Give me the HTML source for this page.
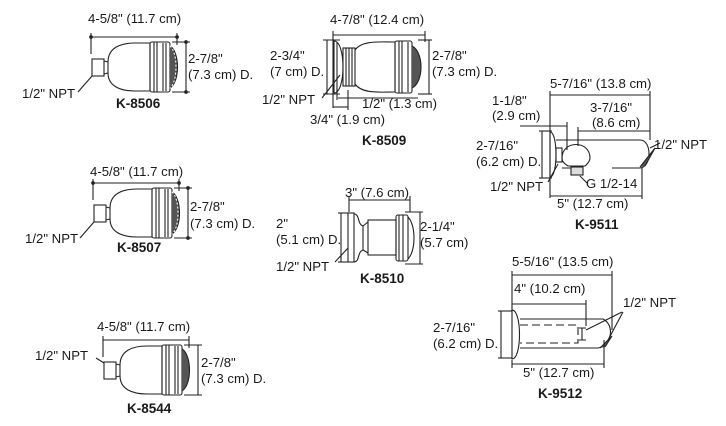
<!DOCTYPE html>
<html><head><meta charset="utf-8"><style>
html,body{margin:0;padding:0;background:#fff;}
svg{display:block;}
text{font-family:"Liberation Sans",sans-serif;font-size:13.2px;fill:#1a1a1a;}
.b{font-weight:bold;font-size:13.5px;}
</style></head><body>
<svg width="726" height="426" viewBox="0 0 726 426" xmlns="http://www.w3.org/2000/svg">
<defs>
<g id="sh" fill="none" stroke="#222" stroke-width="1.1">
  <line x1="91" y1="37" x2="177" y2="37"/>
  <line x1="91" y1="33" x2="91" y2="54"/>
  <line x1="177" y1="33" x2="177" y2="45"/>
  <line x1="172" y1="42" x2="190" y2="42"/>
  <line x1="172" y1="92" x2="190" y2="92"/>
  <line x1="186" y1="42" x2="186" y2="92"/>
  <circle cx="91" cy="37" r="1.3" fill="#222"/><circle cx="177" cy="37" r="1.3" fill="#222"/>
  <circle cx="186" cy="42" r="1.3" fill="#222"/><circle cx="186" cy="92" r="1.3" fill="#222"/>
  <rect x="92" y="59" width="12" height="17"/>
  <path d="M104 61 L108 62 L108 73 L104 74"/>
  <path d="M108 62 C108 48 120 43 135 43 L150 43 L150 91 L135 91 C120 91 108 86 108 73"/>
  <rect x="150" y="42" width="20" height="50" rx="2"/>
  <line x1="154" y1="42" x2="154" y2="92"/><line x1="157" y1="42" x2="157" y2="92"/>
  <line x1="163" y1="43" x2="163" y2="91"/><line x1="166" y1="43" x2="166" y2="91"/>
  <path d="M170 46 C180 52 180 82 170 88" fill="#555"/>
  <path d="M170 46 C178 52 178 82 170 88" stroke-dasharray="2 2" stroke="#fff"/>
  <line x1="92" y1="76" x2="78" y2="92"/>
</g>
</defs>

<use href="#sh"/>
<text x="88" y="23">4-5/8" (11.7 cm)</text>
<text x="188" y="63">2-7/8"</text>
<text x="188" y="79">(7.3 cm) D.</text>
<text x="22" y="98">1/2" NPT</text>
<text x="116" y="108" class="b">K-8506</text>

<use href="#sh" transform="translate(2,146)"/>
<text x="90" y="176">4-5/8" (11.7 cm)</text>
<text x="190" y="211">2-7/8"</text>
<text x="190" y="228">(7.3 cm) D.</text>
<text x="25" y="243">1/2" NPT</text>
<text x="117" y="252" class="b">K-8507</text>

<g transform="translate(12,303)">
<g fill="none" stroke="#222" stroke-width="1.1">
  <line x1="91" y1="37" x2="177" y2="37"/>
  <line x1="91" y1="33" x2="91" y2="54"/>
  <line x1="177" y1="33" x2="177" y2="45"/>
  <line x1="172" y1="42" x2="190" y2="42"/>
  <line x1="172" y1="92" x2="190" y2="92"/>
  <line x1="186" y1="42" x2="186" y2="92"/>
  <rect x="92" y="59" width="12" height="17"/>
  <path d="M104 61 L108 62 L108 73 L104 74"/>
  <path d="M108 62 C108 48 120 43 135 43 L150 43 L150 91 L135 91 C120 91 108 86 108 73"/>
  <rect x="150" y="42" width="20" height="50" rx="2"/>
  <line x1="154" y1="42" x2="154" y2="92"/><line x1="157" y1="42" x2="157" y2="92"/>
  <line x1="163" y1="43" x2="163" y2="91"/><line x1="166" y1="43" x2="166" y2="91"/>
  <path d="M170 46 C180 52 180 82 170 88" fill="#555"/>
  <line x1="92" y1="60" x2="84" y2="55"/>
</g>
</g>
<text x="97" y="331">4-5/8" (11.7 cm)</text>
<text x="35" y="360">1/2" NPT</text>
<text x="201" y="367">2-7/8"</text>
<text x="201" y="383">(7.3 cm) D.</text>
<text x="127" y="413" class="b">K-8544</text>

<g fill="none" stroke="#222" stroke-width="1.1">
  <line x1="333" y1="35" x2="425" y2="35"/>
  <line x1="333" y1="31" x2="333" y2="108"/>
  <line x1="425" y1="31" x2="425" y2="42"/>
  <line x1="327" y1="40" x2="327" y2="94"/>
  <line x1="323" y1="40" x2="340" y2="40"/><line x1="323" y1="94" x2="340" y2="94"/>
  <line x1="418" y1="40" x2="432" y2="40"/><line x1="418" y1="94" x2="432" y2="94"/>
  <line x1="429" y1="40" x2="429" y2="94"/>
  <path d="M334 41 C346 41 346 93 334 93 Z"/>
  <line x1="337" y1="42" x2="337" y2="92"/>
  <rect x="343" y="48" width="12" height="38"/>
  <line x1="346" y1="48" x2="346" y2="86"/><line x1="349" y1="48" x2="349" y2="86"/><line x1="352" y1="48" x2="352" y2="86"/>
  <path d="M355 50 C362 40 380 42 395 42 L395 92 C380 92 362 94 355 84"/>
  <rect x="395" y="41" width="17" height="52" rx="2"/>
  <line x1="399" y1="41" x2="399" y2="93"/><line x1="402" y1="41" x2="402" y2="93"/>
  <line x1="408" y1="42" x2="408" y2="92"/>
  <path d="M412 46 C424 52 424 82 412 88" fill="#555"/>
  <line x1="337" y1="88" x2="337" y2="100"/><line x1="338" y1="98" x2="418" y2="98"/>
  <line x1="333" y1="107" x2="348" y2="107"/><line x1="348" y1="90" x2="348" y2="110"/>
  <line x1="340" y1="75" x2="322" y2="98"/>
</g>
<text x="330" y="24">4-7/8" (12.4 cm)</text>
<text x="270" y="60">2-3/4"</text>
<text x="270" y="76">(7 cm) D.</text>
<text x="432" y="60">2-7/8"</text>
<text x="432" y="76">(7.3 cm) D.</text>
<text x="262" y="104">1/2" NPT</text>
<text x="362" y="108">1/2" (1.3 cm)</text>
<text x="310" y="124">3/4" (1.9 cm)</text>
<text x="362" y="145" class="b">K-8509</text>

<g fill="none" stroke="#222" stroke-width="1.1">
  <line x1="349" y1="200" x2="410" y2="200"/>
  <line x1="349" y1="196" x2="349" y2="212"/><line x1="410" y1="196" x2="410" y2="212"/>
  <line x1="341" y1="213" x2="341" y2="262"/>
  <line x1="338" y1="213" x2="348" y2="213"/><line x1="338" y1="262" x2="348" y2="262"/>
  <line x1="420" y1="212" x2="420" y2="264"/>
  <line x1="405" y1="212" x2="423" y2="212"/><line x1="405" y1="264" x2="423" y2="264"/>
  <rect x="348" y="213" width="6" height="49"/>
  <path d="M354 214 C360 214 357 224 363 226 L363 250 C357 252 360 262 354 262"/>
  <rect x="368" y="220" width="28" height="35"/>
  <path d="M363 226 L368 222 M363 250 L368 253"/>
  <rect x="396" y="215" width="12" height="46" rx="2"/>
  <line x1="399" y1="215" x2="399" y2="261"/><line x1="403" y1="215" x2="403" y2="261"/>
  <path d="M408 217 C416 225 416 251 408 259"/>
  <line x1="348" y1="248" x2="335" y2="262"/>
</g>
<text x="345" y="197">3" (7.6 cm)</text>
<text x="276" y="228">2"</text>
<text x="276" y="244">(5.1 cm) D.</text>
<text x="420" y="231">2-1/4"</text>
<text x="420" y="247">(5.7 cm)</text>
<text x="276" y="271">1/2" NPT</text>
<text x="360" y="283" class="b">K-8510</text>

<g fill="none" stroke="#222" stroke-width="1.1">
  <line x1="550" y1="95" x2="650" y2="95"/>
  <line x1="550" y1="91" x2="550" y2="198"/><line x1="650" y1="91" x2="650" y2="140"/>
  <line x1="520" y1="126" x2="550" y2="126"/><line x1="567" y1="122" x2="567" y2="150"/>
  <line x1="550" y1="126" x2="567" y2="126"/>
  <line x1="578" y1="131" x2="650" y2="131"/><line x1="578" y1="127" x2="578" y2="146"/>
  <line x1="542" y1="131" x2="542" y2="178"/>
  <line x1="539" y1="131" x2="552" y2="131"/><line x1="539" y1="178" x2="552" y2="178"/>
  <path d="M550 132 C558 132 558 177 550 177 Z"/>
  <rect x="556" y="148" width="6" height="14"/>
  <path d="M556 140 L640 140 C652 140 652 167 640 168 L612 168 M571 168 L562 168"/>
  <path d="M562 158 C562 140 590 140 590 158 C590 162 585 166 585 166 L568 166 C565 164 562 162 562 158 Z"/>
  <rect x="571" y="167" width="12" height="8" fill="#ddd"/>
  <path d="M640 167 L655 148 L645 166" fill="#555"/>
  <line x1="650" y1="148" x2="660" y2="143"/>
  <line x1="550" y1="196" x2="642" y2="196"/><line x1="642" y1="168" x2="642" y2="199"/>
  <line x1="558" y1="164" x2="548" y2="182"/>
  <line x1="580" y1="176" x2="588" y2="184"/>
</g>
<text x="550" y="88">5-7/16" (13.8 cm)</text>
<text x="492" y="105">1-1/8"</text>
<text x="492" y="120">(2.9 cm)</text>
<text x="590" y="112">3-7/16"</text>
<text x="592" y="127">(8.6 cm)</text>
<text x="476" y="150">2-7/16"</text>
<text x="476" y="166">(6.2 cm) D.</text>
<text x="654" y="149">1/2" NPT</text>
<text x="586" y="188">G 1/2-14</text>
<text x="490" y="191">1/2" NPT</text>
<text x="557" y="208">5" (12.7 cm)</text>
<text x="575" y="229" class="b">K-9511</text>

<g fill="none" stroke="#222" stroke-width="1.1">
  <line x1="512" y1="275" x2="612" y2="275"/>
  <line x1="512" y1="271" x2="512" y2="312"/><line x1="612" y1="271" x2="612" y2="330"/>
  <line x1="512" y1="304" x2="586" y2="304"/><line x1="586" y1="300" x2="586" y2="326"/>
  <line x1="501" y1="311" x2="501" y2="358"/>
  <line x1="498" y1="311" x2="512" y2="311"/><line x1="498" y1="358" x2="512" y2="358"/>
  <path d="M512 310 C522 310 522 359 512 359 Z"/>
  <path d="M520 319 L603 319 C615 325 612 345 598 348 L520 348"/>
  <path d="M520 325 L578 325 L578 343 L520 343" stroke-dasharray="8 4"/>
  <path d="M579 328 L586 328 M579 340 L586 340 M582 328 L582 340"/>
  <path d="M600 348 L612 336 L605 347" fill="#555"/>
  <line x1="586" y1="330" x2="622" y2="312"/><line x1="608" y1="340" x2="623" y2="312"/>
  <line x1="512" y1="364" x2="604" y2="364"/><line x1="512" y1="360" x2="512" y2="368"/>
  <line x1="604" y1="340" x2="604" y2="368"/>
</g>
<text x="512" y="266">5-5/16" (13.5 cm)</text>
<text x="514" y="293">4" (10.2 cm)</text>
<text x="623" y="307">1/2" NPT</text>
<text x="433" y="332">2-7/16"</text>
<text x="433" y="348">(6.2 cm) D.</text>
<text x="523" y="377">5" (12.7 cm)</text>
<text x="538" y="398" class="b">K-9512</text>
</svg>
</body></html>
